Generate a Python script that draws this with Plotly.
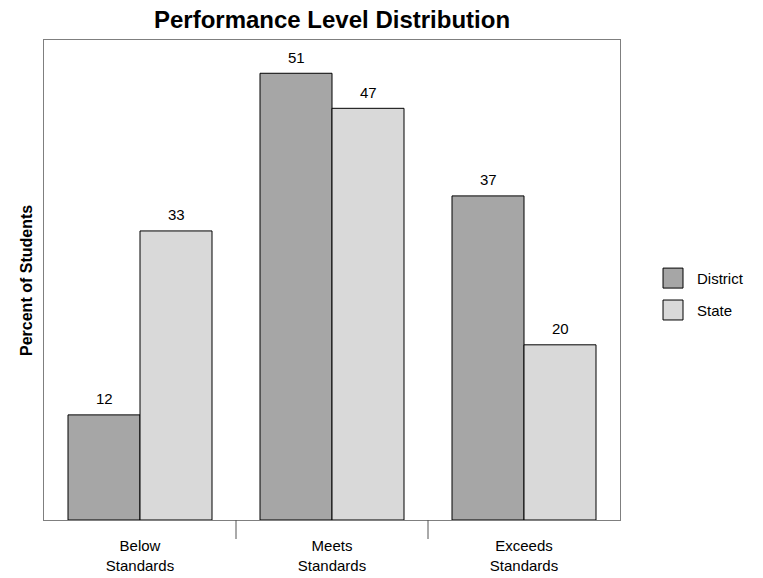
import plotly.graph_objects as go

categories = ["Below<br>Standards", "Meets<br>Standards", "Exceeds<br>Standards"]
series_names = ["District", "State"]
district = [12, 51, 37]
state = [33, 47, 20]
colors = ["#a6a6a6", "#d9d9d9"]

FONT = "Liberation Sans, Arial, sans-serif"

fig = go.Figure()
for name, vals, col in zip(series_names, [district, state], colors):
    fig.add_trace(go.Bar(
        x=categories, y=vals, name=name,
        marker=dict(color=col, line=dict(color="#000000", width=1)),
        showlegend=False, hoverinfo="skip",
    ))

# value labels
offsets = [-36, 36]
for vals, dx in zip([district, state], offsets):
    for c, v in zip(categories, vals):
        fig.add_annotation(x=c, y=v, text=str(v), showarrow=False,
                           xshift=dx, yshift=16, yanchor="middle",
                           font=dict(family=FONT, size=15, color="#000"))

# category separator ticks below the axis
for i in range(len(categories) - 1):
    fig.add_shape(type="line", xref="x", yref="paper",
                  x0=i + 0.5, x1=i + 0.5, y0=0, y1=-19 / 480,
                  line=dict(color="#555555", width=1))

# manual legend
leg_y = [0.504, 0.4375]
for name, col, yc in zip(series_names, colors, leg_y):
    fig.add_shape(type="rect", xref="paper", yref="paper",
                  x0=1.0747, x1=1.1094, y0=yc - 0.0208, y1=yc + 0.0208,
                  fillcolor=col, line=dict(color="#000000", width=1))
    fig.add_annotation(xref="paper", yref="paper", x=1.130, y=yc,
                       text=name, showarrow=False, xanchor="left", yanchor="middle",
                       font=dict(family=FONT, size=15, color="#000"))

# y-axis title
fig.add_annotation(xref="paper", yref="paper", x=-0.0313, y=0.5,
                   text="<b>Percent of Students</b>", textangle=-90, showarrow=False,
                   xanchor="center", yanchor="middle",
                   font=dict(family=FONT, size=16, color="#000"))

fig.update_layout(
    width=763, height=578,
    margin=dict(l=44, r=143, t=40, b=58, autoexpand=False),
    paper_bgcolor="white", plot_bgcolor="white",
    barmode="group", bargap=0.25, bargroupgap=0,
    title=dict(text="<b>Performance Level Distribution</b>", x=0.5, xref="paper",
               y=1 - 20 / 578, yref="container", xanchor="center", yanchor="middle",
               font=dict(family=FONT, size=24, color="#000")),
    font=dict(family=FONT, size=15, color="#000"),
    xaxis=dict(type="category", categoryorder="array", categoryarray=categories,
               range=[-0.5, 2.5], showline=True, mirror=True, linecolor="#7f7f7f",
               linewidth=1, ticks="", showgrid=False, zeroline=False,
               tickfont=dict(family=FONT, size=15, color="#000"),
               ticklabelstandoff=12, automargin=False),
    yaxis=dict(range=[0, 54.8], showticklabels=False, ticks="", showgrid=False,
               zeroline=False, showline=True, mirror=True, linecolor="#7f7f7f",
               linewidth=1, automargin=False),
)

fig.write_html("out.html", config={"displayModeBar": False},
               post_script="document.body.style.margin='0';")
